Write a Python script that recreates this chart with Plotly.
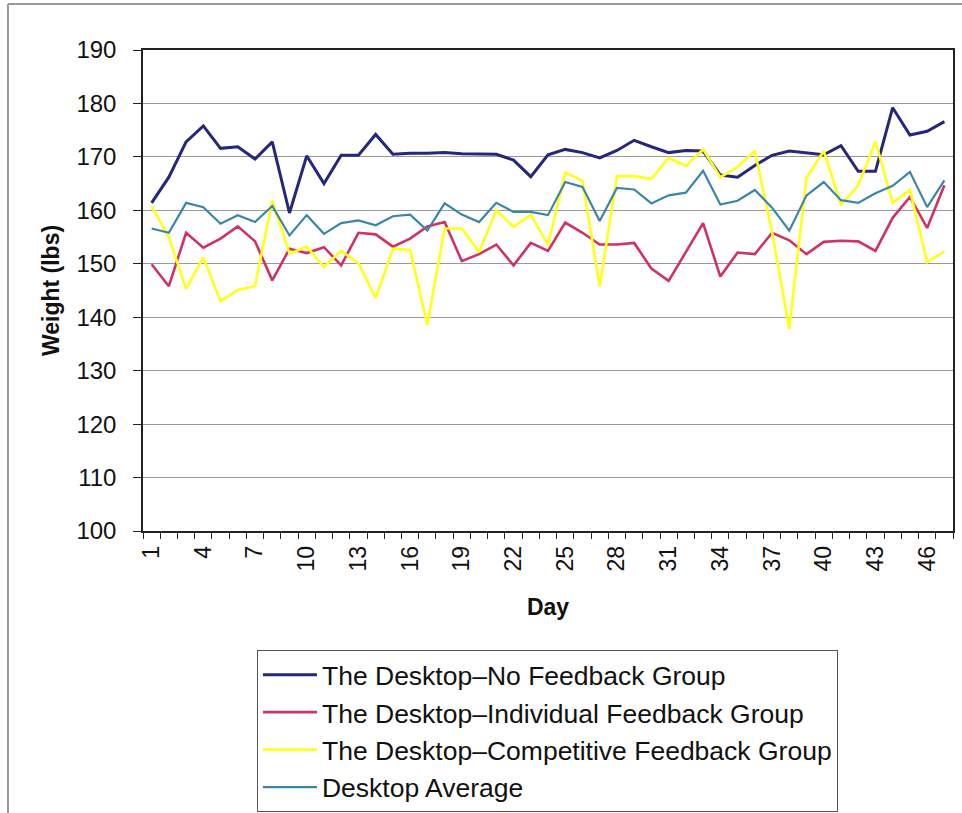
import plotly.graph_objects as go

days = list(range(1, 48))

no_feedback = [161.4, 166.2, 172.8, 175.8, 171.6, 171.9, 169.6, 172.8, 159.5, 170.2,
               165.0, 170.3, 170.3, 174.2, 170.5, 170.7, 170.7, 170.8, 170.6, 170.6,
               170.5, 169.4, 166.3, 170.4, 171.4, 170.8, 169.8, 171.2, 173.1, 171.9,
               170.8, 171.2, 171.1, 166.6, 166.2, 168.4, 170.3, 171.1, 170.8, 170.4,
               172.1, 167.3, 167.3, 179.2, 174.1, 174.8, 176.6]

individual = [149.9, 145.8, 155.8, 153.0, 154.7, 157.0, 154.2, 146.9, 152.8, 152.0,
              153.1, 149.7, 155.8, 155.5, 153.2, 154.7, 157.0, 157.8, 150.5, 151.8,
              153.6, 149.7, 153.9, 152.4, 157.7, 155.8, 153.6, 153.6, 153.9, 149.1,
              146.8, 152.1, 157.6, 147.6, 152.1, 151.8, 155.8, 154.4, 151.8, 154.1,
              154.3, 154.2, 152.4, 158.6, 162.5, 156.7, 164.7]

competitive = [160.8, 155.0, 145.3, 151.2, 143.0, 145.1, 145.8, 161.8, 151.9, 153.2,
               149.4, 152.4, 150.1, 143.6, 152.8, 152.6, 138.6, 156.6, 156.6, 152.2,
               160.0, 156.9, 159.2, 153.5, 167.1, 165.5, 145.8, 166.4, 166.4, 165.9,
               169.8, 168.3, 171.4, 166.2, 168.1, 171.1, 156.0, 137.8, 166.1, 171.1,
               161.0, 164.7, 172.9, 161.4, 163.8, 150.3, 152.3]

average = [156.6, 155.8, 161.4, 160.6, 157.5, 159.1, 157.8, 160.8, 155.3, 159.1,
           155.6, 157.6, 158.1, 157.2, 158.9, 159.2, 156.2, 161.3, 159.2, 157.8,
           161.4, 159.7, 159.7, 159.1, 165.3, 164.4, 158.0, 164.2, 163.9, 161.3,
           162.8, 163.3, 167.4, 161.1, 161.8, 163.8, 160.5, 156.2, 162.8, 165.3,
           161.9, 161.4, 163.2, 164.6, 167.2, 160.6, 165.6]

x_tick_vals = [1, 4, 7, 10, 13, 16, 19, 22, 25, 28, 31, 34, 37, 40, 43, 46]
x_tick_labels = ["1", "4", "7", "10", "13", "16", "19", "22", "25", "28",
                 "31", "34", "37", "40", "43", "46"]
y_tick_vals = [100, 110, 120, 130, 140, 150, 160, 170, 180, 190]

series = [
    ("The Desktop\u2013No Feedback Group", no_feedback, "#25287A", 3),
    ("The Desktop\u2013Individual Feedback Group", individual, "#CF3362", 2.6),
    ("The Desktop\u2013Competitive Feedback Group", competitive, "#FFFF1A", 2.6),
    ("Desktop Average", average, "#3C86A5", 2.2),
]

fig = go.Figure()
for name, vals, color, w in series:
    fig.add_trace(go.Scatter(x=days, y=vals, mode="lines", name=name,
                             line=dict(color=color, width=w)))

fig.update_layout(
    width=962, height=813,
    margin=dict(l=143, r=9, t=50, b=282, autoexpand=False),
    paper_bgcolor="white", plot_bgcolor="white",
    font=dict(family="Arial, Liberation Sans, sans-serif", color="#111111"),
    showlegend=True,
    legend=dict(x=0.1407, y=-0.2474, xanchor="left", yanchor="top",
                font=dict(size=26.5, color="#111111"),
                bordercolor="#555555", borderwidth=1, bgcolor="white",
                itemwidth=54, traceorder="normal"),
    shapes=[
        dict(type="line", xref="paper", yref="paper", x0=-0.1667, x1=-0.1667,
             y0=1.0956, y1=-0.6, line=dict(color="#9a9a9a", width=2)),
        dict(type="line", xref="paper", yref="paper", x0=-0.1667, x1=1.02,
             y0=1.0956, y1=1.0956, line=dict(color="#9a9a9a", width=2)),
    ],
)

fig.update_xaxes(
    range=[0.5, 47.5], tickmode="array", tickvals=x_tick_vals, ticktext=x_tick_labels,
    tickangle=-90, tickfont=dict(size=23), ticks="", ticklabelstandoff=4,
    minor=dict(tickmode="linear", tick0=0.5, dtick=1, ticks="outside", ticklen=6,
               tickcolor="#222222", tickwidth=1),
    showgrid=False, zeroline=False, automargin=False,
    showline=True, linecolor="#222222", linewidth=1.5, mirror=True,
    title=dict(text="<b>Day</b>", font=dict(size=23), standoff=28),
)
fig.update_yaxes(
    range=[100, 190], tickmode="array", tickvals=y_tick_vals,
    tickfont=dict(size=24), ticks="outside", ticklen=8, tickcolor="#222222",
    ticklabelstandoff=12, automargin=False,
    showgrid=True, gridcolor="#9a9a9a", gridwidth=1, zeroline=False,
    showline=True, linecolor="#222222", linewidth=1.5, mirror=True,
    title=dict(text="<b>Weight (lbs)</b>", font=dict(size=23), standoff=10),
)

fig.write_html("out.html", config={"displayModeBar": False},
               post_script="document.body.style.margin='0';document.body.style.overflow='hidden';")
